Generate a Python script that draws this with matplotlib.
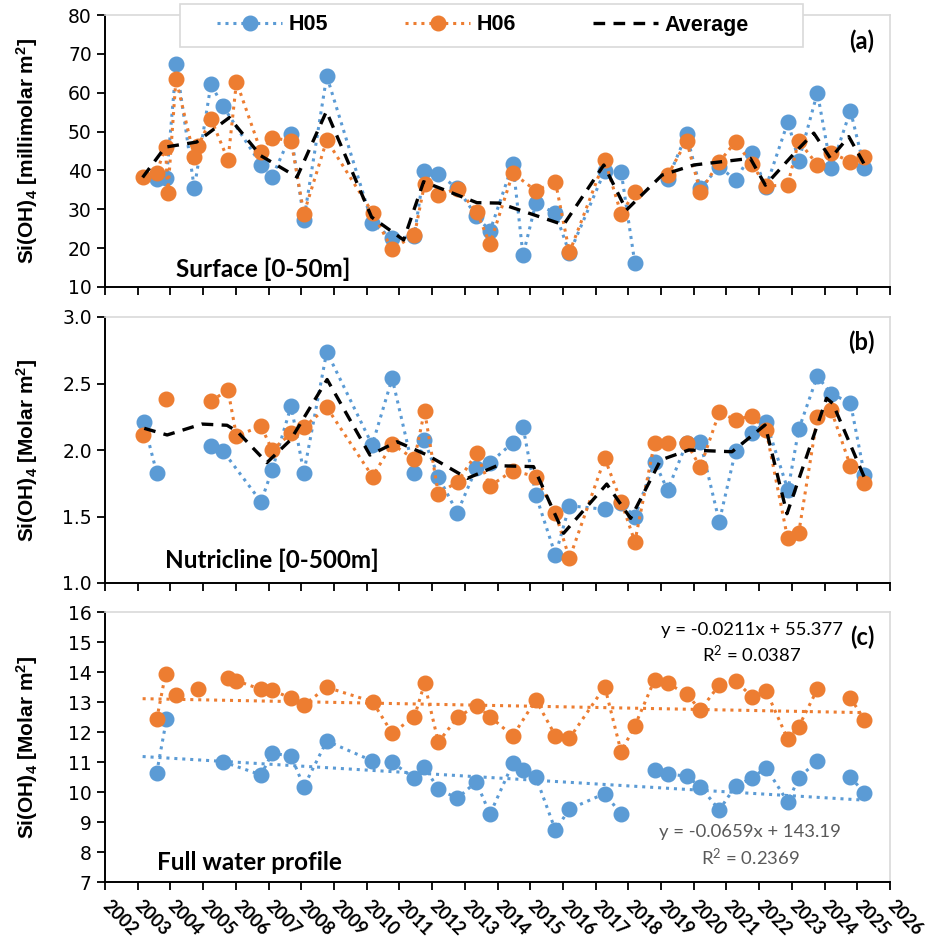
import numpy as np
import matplotlib
matplotlib.use("Agg")
import matplotlib.pyplot as plt
from matplotlib.patches import Rectangle
from matplotlib.lines import Line2D
from matplotlib import font_manager

nan = np.nan

# Probenahmedaten (Dezimaljahr) Station H05
h05_dates = [2003.18, 2003.58, 2003.88, 2004.18, 2004.73, 2005.24, 2005.60, 2006.77, 2007.11, 2007.69,
             2008.08, 2008.78, 2010.17, 2010.78, 2011.45, 2011.76, 2012.19, 2012.77, 2013.35, 2013.77,
             2014.47, 2014.78, 2015.17, 2015.77, 2016.20, 2017.28, 2017.78, 2018.20, 2018.80, 2019.20,
             2019.78, 2020.20, 2020.78, 2021.28, 2021.77, 2022.21, 2022.88, 2023.21, 2023.78, 2024.20,
             2024.79, 2025.22]
h05_surface = [nan, 37.7, 38.0, 67.4, 35.4, 62.2, 56.6, 41.5, 38.3, 49.3,
               27.3, 64.3, 26.5, 22.5, 23.0, 39.9, 39.1, 35.4, 28.3, 24.4,
               41.7, 18.2, 31.5, 29.0, 18.7, 39.9, 39.7, 16.1, nan, 37.7,
               49.3, 35.4, 41.0, 37.5, 44.4, 35.8, 52.5, 42.5, 60.0, 40.5,
               55.4, 40.5]
h05_nutricline = [2.21, 1.83, nan, nan, nan, 2.03, 1.995, 1.611, 1.85, 2.331,
                  1.829, 2.739, 2.038, 2.539, 1.829, 2.075, 1.80, 1.529, 1.862, 1.905,
                  2.055, 2.175, 1.662, 1.211, 1.581, 1.554, 1.60, 1.499, 1.912, 1.699,
                  2.05, 2.062, 1.461, 1.995, 2.125, 2.213, 1.699, 2.156, 2.556, 2.421,
                  2.356, 1.812]
h05_full = [nan, 10.64, 12.42, nan, nan, nan, 11.01, 10.57, 11.29, 11.20,
            10.18, 11.70, 11.04, 10.99, 10.46, 10.84, 10.10, 9.79, 10.34, 9.26,
            10.96, 10.73, 10.51, 8.73, 9.43, 9.95, 9.26, nan, 10.73, 10.60,
            10.53, 10.18, 9.40, 10.20, 10.46, 10.81, 9.66, 10.48, 11.03, nan,
            10.49, 9.98]

# Station H06
h06_dates = [2003.17, 2003.58, 2003.85, 2003.92, 2004.17, 2004.73, 2004.85, 2005.24, 2005.76, 2006.02,
             2006.77, 2007.11, 2007.69, 2008.08, 2008.78, 2010.18, 2010.78, 2011.46, 2011.77, 2012.19,
             2012.78, 2013.36, 2013.77, 2014.47, 2015.17, 2015.77, 2016.20, 2017.28, 2017.78, 2018.20,
             2018.80, 2019.20, 2019.78, 2020.20, 2020.78, 2021.28, 2021.77, 2022.21, 2022.87, 2023.21,
             2023.78, 2024.20, 2024.79, 2025.22]
h06_surface = [38.2, 39.4, 46.1, 34.1, 63.6, 43.4, 46.3, 53.3, 42.7, 62.8,
               44.8, 48.4, 47.6, 28.9, 47.8, 29.1, 19.7, 23.4, 36.5, 33.7,
               35.3, 29.4, 21.1, 39.3, 34.8, 37.1, 18.9, 42.7, 28.8, 34.5,
               nan, 38.7, 47.6, 34.5, 42.2, 47.4, 41.7, 36.0, 36.2, 47.6,
               41.4, 44.6, 42.2, 43.4]
h06_nutricline = [2.113, nan, 2.383, nan, nan, nan, nan, 2.368, 2.451, 2.105,
                  2.18, 2.0, 2.125, 2.171, 2.321, 1.80, 2.045, 1.93, 2.295, 1.669,
                  1.762, 1.975, 1.729, 1.845, 1.80, 1.524, 1.185, 1.937, 1.611, 1.311,
                  2.055, 2.05, 2.055, 1.87, 2.283, 2.226, 2.258, 2.15, 1.336, 1.378,
                  2.25, 2.301, 1.88, 1.75]
h06_full = [nan, 12.42, 13.93, nan, 13.23, nan, 13.42, nan, 13.79, 13.71,
            13.42, 13.40, 13.12, 12.90, 13.49, 13.01, 11.96, 12.51, 13.62, 11.66,
            12.49, 12.88, 12.51, 11.87, 13.07, 11.88, 11.79, 13.51, 11.34, 12.21,
            13.73, 13.62, 13.27, 12.73, 13.57, 13.71, 13.18, 13.38, 11.77, 12.18,
            13.43, nan, 13.14, 12.40]

# Mittelwerte (eigene Zeitpunkte)
avg_surface_dates = [2003.15, 2003.84, 2004.80, 2005.80, 2006.76, 2007.87, 2008.77, 2010.15, 2011.13, 2011.74,
                     2013.37, 2014.04, 2016.02, 2017.25, 2017.94, 2019.03, 2020.00, 2021.73, 2022.19, 2023.16,
                     2023.67, 2024.18, 2024.74, 2025.20]
avg_surface = [38.2, 46.0, 47.3, 53.6, 43.8, 38.3, 55.2, 28.0, 22.1, 37.1,
               31.7, 31.6, 26.0, 41.4, 29.8, 38.8, 41.4, 43.1, 36.2, 45.2,
               49.6, 43.1, 48.7, 41.8]
avg_nutri_dates = [2003.20, 2003.90, 2004.96, 2005.73, 2006.04, 2006.95, 2007.67, 2008.79, 2010.10, 2010.93,
                   2011.85, 2013.08, 2013.99, 2015.10, 2016.02, 2017.34, 2018.07, 2018.99, 2019.85, 2021.17,
                   2022.18, 2022.85, 2024.06, 2024.25, 2025.25]
avg_nutricline = [2.163, 2.113, 2.195, 2.186, 2.14, 1.905, 2.075, 2.53, 1.962, 2.062,
                  1.962, 1.787, 1.882, 1.875, 1.374, 1.744, 1.486, 1.925, 2.0, 1.987,
                  2.188, 1.521, 2.389, 2.35, 1.774]

# Lineare Trends (Excel) Full water profile
trend_range = [2003.15, 2025.22]
trend_h05 = [-0.0659, 143.19]
trend_h06 = [-0.0211, 55.377]

years = list(range(2002, 2027))

C_H05 = "#5B9BD5"
C_H06 = "#ED7D31"
GRID_GREY = "#D9D9D9"
DOTS = (0, (1, 1.6))
DASH = (0, (3.5, 2.5))

names = {f.name for f in font_manager.fontManager.ttflist}
narrow = "Liberation Sans Narrow" if "Liberation Sans Narrow" in names else "Liberation Sans"
plt.rcParams["mathtext.default"] = "regular"

W, H = 927, 942
fig = plt.figure(figsize=(W / 100, H / 100), dpi=100)


def add_axes(top, bottom, left=105, right=890):
    return fig.add_axes([left / W, 1 - bottom / H, (right - left) / W, (bottom - top) / H])


def style_axes(ax, ylim, yticks, fmt, ylabel):
    ax.set_xlim(2002, 2026)
    ax.set_ylim(*ylim)
    ax.set_yticks(yticks)
    ax.set_yticklabels([fmt.format(v) for v in yticks], fontsize=13.5, family="DejaVu Sans")
    ax.set_xticks(years)
    for s in ["top", "right"]:
        ax.spines[s].set_color(GRID_GREY)
        ax.spines[s].set_linewidth(1.2)
    for s in ["left", "bottom"]:
        ax.spines[s].set_color("black")
        ax.spines[s].set_linewidth(1.4)
    ax.tick_params(axis="both", direction="out", length=6, width=1.3, color="black")
    ax.set_ylabel(ylabel, fontsize=15, fontweight="bold", family=narrow)
    ax.yaxis.set_label_coords(-0.083, 0.5)


def plot_series(ax, x, y, color):
    ax.plot(x, y, linestyle=DOTS, linewidth=2.2, color=color, marker="o",
            markersize=10.5, markerfacecolor=color, markeredgecolor=color, zorder=3)


ax_a = add_axes(15, 287)
ax_b = add_axes(317, 583)
ax_c = add_axes(612, 882)

# (a) Surface
plot_series(ax_a, h05_dates, h05_surface, C_H05)
plot_series(ax_a, h06_dates, h06_surface, C_H06)
ax_a.plot(avg_surface_dates, avg_surface, color="black", linestyle=DASH, linewidth=2.4, zorder=4)
style_axes(ax_a, (10, 80), list(range(10, 81, 10)), "{:.0f}", "Si(OH)$_4$ [millimolar m$^2$]")
ax_a.set_xticklabels([])

# (b) Nutricline
plot_series(ax_b, h05_dates, h05_nutricline, C_H05)
plot_series(ax_b, h06_dates, h06_nutricline, C_H06)
ax_b.plot(avg_nutri_dates, avg_nutricline, color="black", linestyle=DASH, linewidth=2.4, zorder=4)
style_axes(ax_b, (1.0, 3.0), [1.0, 1.5, 2.0, 2.5, 3.0], "{:.1f}", "Si(OH)$_4$ [Molar m$^2$]")
ax_b.set_xticklabels([])

# (c) Full water profile mit Trendlinien
plot_series(ax_c, h05_dates, h05_full, C_H05)
plot_series(ax_c, h06_dates, h06_full, C_H06)
tx = np.array(trend_range)
ax_c.plot(tx, trend_h05[0] * tx + trend_h05[1], color=C_H05, linestyle=DOTS, linewidth=2.2, zorder=2)
ax_c.plot(tx, trend_h06[0] * tx + trend_h06[1], color=C_H06, linestyle=DOTS, linewidth=2.2, zorder=2)
style_axes(ax_c, (7, 16), list(range(7, 17)), "{:.0f}", "Si(OH)$_4$ [Molar m$^2$]")
ax_c.set_xticklabels([str(y) for y in years], rotation=-45, ha="left", va="center",
                     rotation_mode="anchor", fontsize=13, fontweight="bold", family="Lato")
ax_c.tick_params(axis="x", pad=9)

# Texte
for ax, lab in [(ax_a, "(a)"), (ax_b, "(b)"), (ax_c, "(c)")]:
    ax.text(0.98, 0.905, lab, transform=ax.transAxes, ha="right", va="center",
            fontsize=17, fontweight="bold", family="Lato")
ax_a.text(176 / W, 1 - 269 / H, "Surface [0-50m]", transform=fig.transFigure, ha="left", va="center",
          fontsize=17.5, fontweight="bold", family="Lato")
ax_b.text(165 / W, 1 - 560 / H, "Nutricline [0-500m]", transform=fig.transFigure, ha="left", va="center",
          fontsize=17.5, fontweight="bold", family="Lato")
t = ax_c.text(157 / W, 1 - 862 / H, "Full water profile", transform=fig.transFigure, ha="left", va="center",
              fontsize=17.5, fontweight="bold", family="Lato")
t.set_clip_path(Rectangle((0, 11 / 270), 1, 1, transform=ax_c.transAxes))

ax_c.text(752 / W, 1 - 630 / H, "y = -0.0211x + 55.377", transform=fig.transFigure, ha="center", va="center",
          fontsize=13.3, family="Lato", color="black")
ax_c.text(752 / W, 1 - 655 / H, "R$^2$ = 0.0387", transform=fig.transFigure, ha="center", va="center",
          fontsize=13.3, family="Lato", color="black")
ax_c.text(750 / W, 1 - 832 / H, "y = -0.0659x + 143.19", transform=fig.transFigure, ha="center", va="center",
          fontsize=13.3, family="Lato", color="#595959")
ax_c.text(750 / W, 1 - 858 / H, "R$^2$ = 0.2369", transform=fig.transFigure, ha="center", va="center",
          fontsize=13.3, family="Lato", color="#595959")

# Legende oben
fig.patches.append(Rectangle((180 / W, 1 - 47 / H), 623 / W, 43 / H, transform=fig.transFigure,
                             facecolor="white", edgecolor=GRID_GREY, linewidth=1.2, zorder=5))
handles = [
    Line2D([], [], linestyle=DOTS, linewidth=2.2, color=C_H05, marker="o", markersize=10.5),
    Line2D([], [], linestyle=DOTS, linewidth=2.2, color=C_H06, marker="o", markersize=10.5),
    Line2D([], [], linestyle=DASH, linewidth=2.4, color="black"),
]
leg = fig.legend(handles, ["H05", "H06", "Average"], loc="center", bbox_to_anchor=(483 / W, 1 - 25 / H),
                 ncol=3, frameon=False, numpoints=1, handlelength=3.0, handletextpad=0.3, columnspacing=3.6,
                 prop={"family": "Liberation Sans", "weight": "bold", "size": 15.5})
leg.set_zorder(6)

plt.savefig("out.png", dpi=100)
